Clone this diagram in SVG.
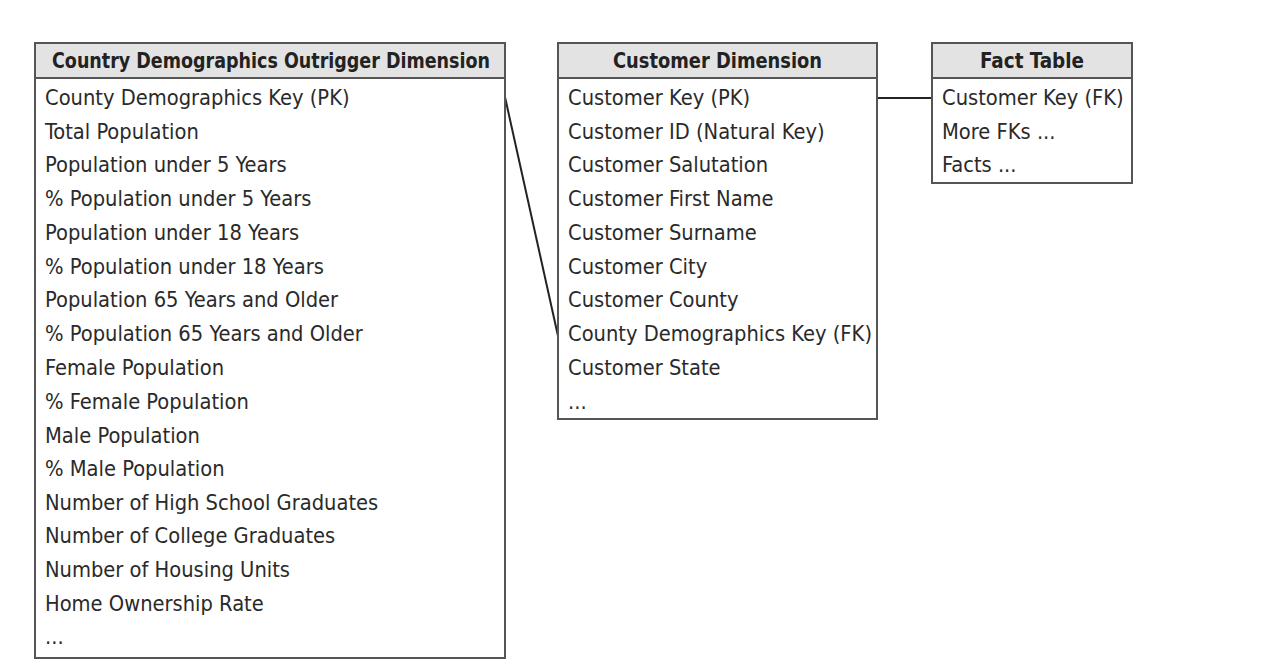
<svg xmlns="http://www.w3.org/2000/svg" width="1264" height="666" viewBox="0 0 1264 666">
<style>
.box{fill:#fff;stroke:#555;stroke-width:2}
.hdr{fill:#e3e3e3;stroke:#555;stroke-width:2}
.t{font-family:"DejaVu Sans Condensed","Liberation Sans",sans-serif;font-size:21.7px;fill:#2a2a2a}
.h{font-family:"DejaVu Sans Condensed","Liberation Sans",sans-serif;font-size:21px;font-weight:bold;fill:#222;text-anchor:middle}
.c{stroke:#222;stroke-width:2;fill:none}
</style>
<rect width="1264" height="666" fill="#fff"/>
<g id="connectors">
<line class="c" x1="505" y1="97" x2="558" y2="336"/>
<line class="c" x1="877" y1="98" x2="932" y2="98"/>
</g>
<g id="outrigger">
<rect class="box" x="35" y="43" width="470" height="615"/>
<rect class="hdr" x="35" y="43" width="470" height="35"/>
<text class="h" x="271" y="68" textLength="438" lengthAdjust="spacingAndGlyphs">Country Demographics Outrigger Dimension</text>
<text class="t" x="45" y="105">County Demographics Key (PK)</text>
<text class="t" x="45" y="139">Total Population</text>
<text class="t" x="45" y="172">Population under 5 Years</text>
<text class="t" x="45" y="206">% Population under 5 Years</text>
<text class="t" x="45" y="240">Population under 18 Years</text>
<text class="t" x="45" y="274">% Population under 18 Years</text>
<text class="t" x="45" y="307">Population 65 Years and Older</text>
<text class="t" x="45" y="341">% Population 65 Years and Older</text>
<text class="t" x="45" y="375">Female Population</text>
<text class="t" x="45" y="409">% Female Population</text>
<text class="t" x="45" y="443">Male Population</text>
<text class="t" x="45" y="476">% Male Population</text>
<text class="t" x="45" y="510">Number of High School Graduates</text>
<text class="t" x="45" y="543">Number of College Graduates</text>
<text class="t" x="45" y="577">Number of Housing Units</text>
<text class="t" x="45" y="611">Home Ownership Rate</text>
<text class="t" x="45" y="644">...</text>
</g>
<g id="customer">
<rect class="box" x="558" y="43" width="319" height="376"/>
<rect class="hdr" x="558" y="43" width="319" height="35"/>
<text class="h" x="717.5" y="68" textLength="209" lengthAdjust="spacingAndGlyphs">Customer Dimension</text>
<text class="t" x="568" y="105">Customer Key (PK)</text>
<text class="t" x="568" y="139">Customer ID (Natural Key)</text>
<text class="t" x="568" y="172">Customer Salutation</text>
<text class="t" x="568" y="206">Customer First Name</text>
<text class="t" x="568" y="240">Customer Surname</text>
<text class="t" x="568" y="274">Customer City</text>
<text class="t" x="568" y="307">Customer County</text>
<text class="t" x="568" y="341">County Demographics Key (FK)</text>
<text class="t" x="568" y="375">Customer State</text>
<text class="t" x="568" y="409">...</text>
</g>
<g id="fact">
<rect class="box" x="932" y="43" width="200" height="140"/>
<rect class="hdr" x="932" y="43" width="200" height="35"/>
<text class="h" x="1032" y="68" textLength="104" lengthAdjust="spacingAndGlyphs">Fact Table</text>
<text class="t" x="942" y="105">Customer Key (FK)</text>
<text class="t" x="942" y="139">More FKs ...</text>
<text class="t" x="942" y="172">Facts ...</text>
</g>
</svg>
